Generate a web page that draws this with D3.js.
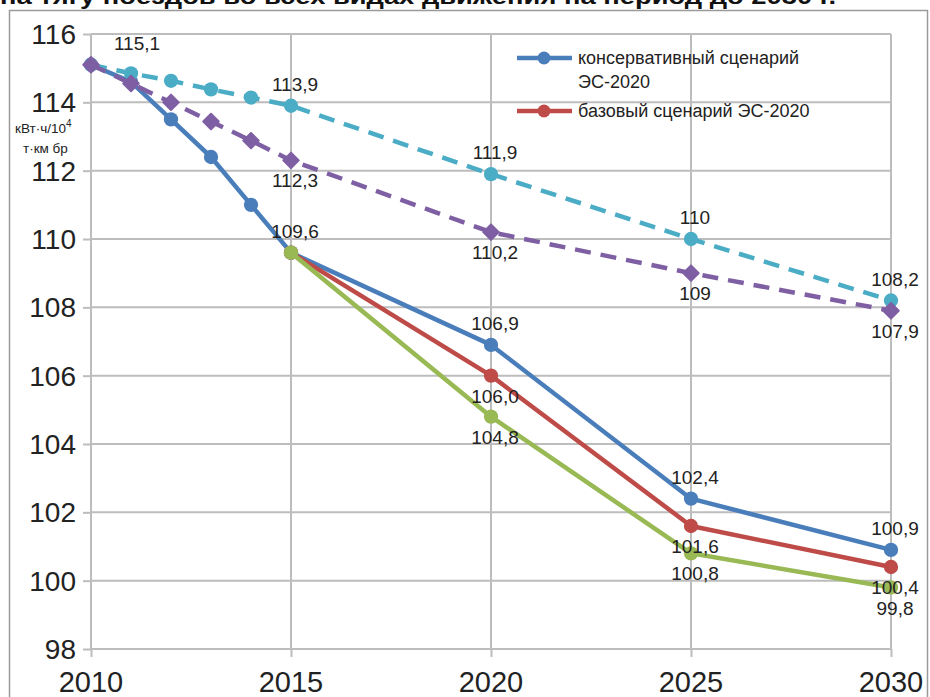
<!DOCTYPE html>
<html><head><meta charset="utf-8">
<script src="https://cdn.jsdelivr.net/npm/d3@7"></script>
<style>body{margin:0;background:#fff}svg{display:block}</style>
</head><body><svg id="c" width="930" height="697"></svg>
<script>
const title = "на тягу поездов во всех видах движения на период до 2030 г.";
const yearsFull = [2010, 2011, 2012, 2013, 2014, 2015, 2020, 2025, 2030];
const yearsLate = [2015, 2020, 2025, 2030];
const conservative = [115.1, 114.6, 113.5, 112.4, 111.0, 109.6, 106.9, 102.4, 100.9];
const base = [109.6, 106.0, 101.6, 100.4];
const green = [109.6, 104.8, 100.8, 99.8];
const cyan = [115.1, 114.85, 114.63, 114.38, 114.14, 113.9, 111.9, 110.0, 108.2];
const purple = [115.1, 114.55, 114.0, 113.44, 112.88, 112.3, 110.2, 109.0, 107.9];
const xTicks = [2010, 2015, 2020, 2025, 2030];
const yTicks = [98, 100, 102, 104, 106, 108, 110, 112, 114, 116];
const legendNames = ["консервативный сценарий", "ЭС-2020", "базовый сценарий ЭС-2020"];
// labels: [year, value, text, position]
const labels = [
  [2010, 115.1, "115,1", "ar"],
  [2015, 113.9, "113,9", "a"],
  [2015, 112.3, "112,3", "b"],
  [2015, 109.6, "109,6", "a"],
  [2020, 111.9, "111,9", "a"],
  [2020, 110.2, "110,2", "b"],
  [2020, 106.9, "106,9", "a"],
  [2020, 106.0, "106,0", "b"],
  [2020, 104.8, "104,8", "b"],
  [2025, 110.0, "110", "a"],
  [2025, 109.0, "109", "b"],
  [2025, 102.4, "102,4", "a"],
  [2025, 101.6, "101,6", "b"],
  [2025, 100.8, "100,8", "b"],
  [2030, 108.2, "108,2", "a"],
  [2030, 107.9, "107,9", "b"],
  [2030, 100.9, "100,9", "a"],
  [2030, 100.4, "100,4", "b"],
  [2030, 99.8, "99,8", "b"]
];

const svg = d3.select("#c");
const x = d3.scaleLinear().domain([2010, 2030]).range([91, 891]);
const y = d3.scaleLinear().domain([98, 116]).range([649, 34]);
const font = "'Liberation Sans', Arial, sans-serif";

// title (cut off at top)
svg.append("text").attr("x", 0).attr("y", 4).attr("font-family", font)
  .attr("font-weight", "bold").attr("font-size", 22).attr("textLength", 836)
  .attr("lengthAdjust", "spacingAndGlyphs").attr("fill", "#111").text(title);

// outer border
svg.append("rect").attr("x", 9.5).attr("y", 10.5).attr("width", 918).attr("height", 700)
  .attr("fill", "none").attr("stroke", "#9a9a9a").attr("stroke-width", 1.5);

// grid
const gy = svg.append("g").attr("transform", "translate(91,0)")
  .call(d3.axisLeft(y).tickValues(yTicks).tickSize(8).tickFormat(""));
gy.select(".domain").remove();
const gx = svg.append("g").attr("transform", "translate(0,649)")
  .call(d3.axisBottom(x).tickValues(xTicks).tickSize(8).tickFormat(""));
gx.select(".domain").remove();
svg.append("g").selectAll("line").data(yTicks).join("line")
  .attr("x1", 91).attr("x2", 891).attr("y1", d => y(d)).attr("y2", d => y(d))
  .attr("stroke", "#bdbdbd").attr("stroke-width", 2);
svg.append("g").selectAll("line").data(xTicks).join("line")
  .attr("x1", d => x(d)).attr("x2", d => x(d)).attr("y1", 34).attr("y2", 649)
  .attr("stroke", "#bdbdbd").attr("stroke-width", 2);
svg.selectAll(".tick line").attr("stroke", "#bdbdbd").attr("stroke-width", 2);

// tick labels
svg.append("g").selectAll("text").data(yTicks).join("text")
  .attr("x", 76).attr("y", d => y(d) + 10).attr("text-anchor", "end")
  .attr("font-family", font).attr("font-size", 28).attr("fill", "#222")
  .text(d => d);
svg.append("g").selectAll("text").data(xTicks).join("text")
  .attr("x", d => x(d)).attr("y", 692).attr("text-anchor", "middle")
  .attr("font-family", font).attr("font-size", 29).attr("fill", "#222")
  .text(d => d);

// unit label
const ul = svg.append("text").attr("x", 15).attr("y", 133).attr("font-family", font)
  .attr("font-size", 13.5).attr("fill", "#222");
ul.append("tspan").text("кВт·ч/10");
ul.append("tspan").attr("dy", -6).attr("font-size", 10).text("4");
svg.append("text").attr("x", 23).attr("y", 153).attr("font-family", font)
  .attr("font-size", 13.5).attr("fill", "#222").text("т·км  бр");

const line = d3.line().x(d => x(d[0])).y(d => y(d[1]));
function series(years, vals, color, dashed, shape) {
  const pts = years.map((yr, i) => [yr, vals[i]]);
  svg.append("path").datum(pts).attr("d", line).attr("fill", "none")
    .attr("stroke", color).attr("stroke-width", 4.5)
    .attr("stroke-dasharray", dashed ? "16,10" : null).attr("stroke-linejoin", "round");
  const sym = d3.symbol().type(shape === "d" ? d3.symbolSquare : d3.symbolCircle)
    .size(shape === "d" ? 120 : 160);
  svg.append("g").selectAll("path").data(pts).join("path")
    .attr("transform", d => `translate(${x(d[0])},${y(d[1])})` + (shape === "d" ? " rotate(45)" : ""))
    .attr("d", sym).attr("fill", color).attr("stroke", color)
    .attr("stroke-width", shape === "d" ? 2 : 0).attr("stroke-linejoin", "round");
}
series(yearsFull, conservative, "#4a7ebb", false, "c");
series(yearsLate, base, "#be4b48", false, "c");
series(yearsFull, cyan, "#4bacc6", true, "c");
series(yearsFull, purple, "#7f5fa3", true, "d");
series(yearsLate, green, "#98b954", false, "c");

// data labels
svg.append("g").selectAll("text").data(labels).join("text")
  .attr("x", d => x(d[0]) + (d[3] === "ar" ? 46 : 4))
  .attr("y", d => y(d[1]) + (d[3] === "b" ? 27 : -15))
  .attr("text-anchor", "middle").attr("font-family", font).attr("font-size", 19)
  .attr("fill", "#222").text(d => d[2]);

// legend
const lg = svg.append("g");
[["#4a7ebb", 58], ["#be4b48", 111]].forEach(([c, ly]) => {
  lg.append("line").attr("x1", 517).attr("x2", 572).attr("y1", ly).attr("y2", ly)
    .attr("stroke", c).attr("stroke-width", 4.5);
  lg.append("circle").attr("cx", 544).attr("cy", ly).attr("r", 6.5).attr("fill", c);
});
lg.append("text").attr("x", 578).attr("y", 64).attr("font-family", font).attr("font-size", 18)
  .attr("fill", "#222").text(legendNames[0]);
lg.append("text").attr("x", 578).attr("y", 88).attr("font-family", font).attr("font-size", 18)
  .attr("fill", "#222").text(legendNames[1]);
lg.append("text").attr("x", 578).attr("y", 117).attr("font-family", font).attr("font-size", 18)
  .attr("fill", "#222").text(legendNames[2]);
</script></body></html>
